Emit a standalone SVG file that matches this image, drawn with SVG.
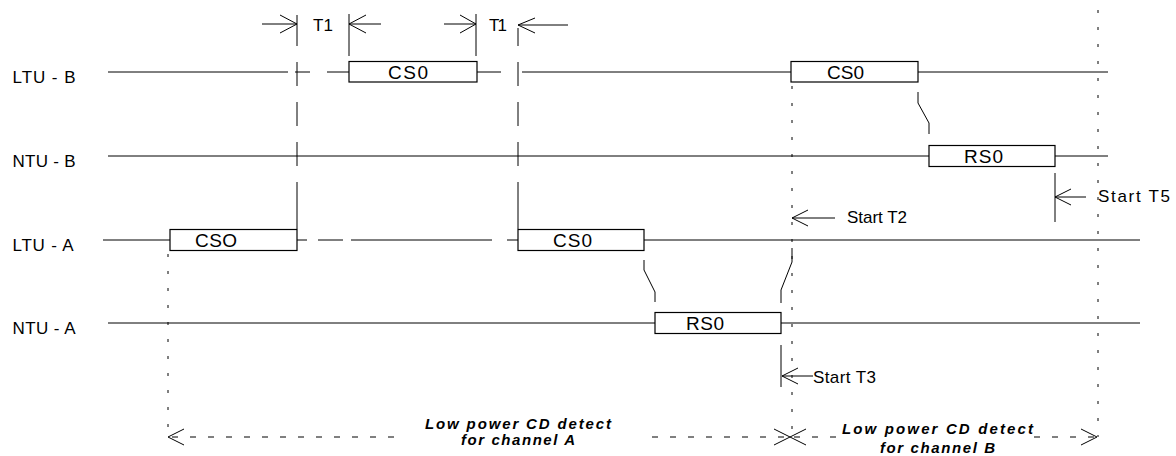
<svg xmlns="http://www.w3.org/2000/svg" width="1176" height="456" viewBox="0 0 1176 456">
<style>
.ln{stroke:#000;stroke-width:1;fill:none}
.box{fill:#fff;stroke:#000;stroke-width:1.2}
.lbl{font-family:"Liberation Sans",Arial,sans-serif;font-size:17px;fill:#000}
.bt{font-family:"Liberation Sans",Arial,sans-serif;font-size:19px;fill:#000}
.bi{font-family:"Liberation Sans",Arial,sans-serif;font-size:15px;font-weight:bold;font-style:italic;fill:#000}
.dot{stroke:#000;stroke-width:1;stroke-dasharray:3 14;fill:none}
.dsh{stroke:#000;stroke-width:1;stroke-dasharray:6 12;fill:none}
</style>
<rect width="1176" height="456" fill="#fff"/>

<g id="signal-lines">
<path class="ln" d="M108,72H288M295,72H310M327,72H349M477,72H501M522,72H791M918,72H1108"/>
<path class="ln" d="M108,156H929M1055,156H1108"/>
<path class="ln" d="M103,240H170M297,240H307M318,240H343M351,240H492M507,240H518M644,240H1140"/>
<path class="ln" d="M108,323H655M781,323H1140"/>
</g>

<g id="labels">
<text class="lbl" x="12.5" y="83" textLength="63">LTU - B</text>
<text class="lbl" x="12.5" y="167" textLength="63">NTU - B</text>
<text class="lbl" x="12.5" y="251" textLength="61">LTU - A</text>
<text class="lbl" x="12.5" y="334" textLength="63">NTU - A</text>
</g>

<g id="ltub-cs0-1"><rect class="box" x="349" y="61.5" width="128" height="20.5"/><text class="bt" x="388" y="79" textLength="40">CS0</text></g>
<g id="ltub-cs0-2"><rect class="box" x="791" y="61.5" width="127" height="20.5"/><text class="bt" x="827" y="79" textLength="37">CS0</text></g>
<g id="ntub-rs0"><rect class="box" x="929" y="145.5" width="126" height="21"/><text class="bt" x="964" y="162.5" textLength="39">RS0</text></g>
<g id="ltua-cso"><rect class="box" x="170" y="229.5" width="127" height="21"/><text class="bt" x="195" y="247" textLength="42">CSO</text></g>
<g id="ltua-cs0"><rect class="box" x="518" y="229.5" width="126" height="21"/><text class="bt" x="553" y="247" textLength="39">CS0</text></g>
<g id="ntua-rs0"><rect class="box" x="655" y="312.5" width="126" height="21"/><text class="bt" x="686" y="330" textLength="38">RS0</text></g>

<g id="connectors">
<!-- T1 markers -->
<path class="ln" d="M297,15V46M297,62V86M297,102V126M297,142V166M297,182V229"/>
<path class="ln" d="M518,28V46M518,62V86M518,102V126M518,142V166M518,182V229"/>
<path class="ln" d="M349,14V56M476,14V56"/>
<path class="ln" d="M262,24H297M280,15L297,24L280,33"/>
<path class="ln" d="M349,24H381M366,15L349,24L366,33"/>
<path class="ln" d="M444,24H476M460,15L476,24L460,33"/>
<path class="ln" d="M518,25H568M535,18L518,25L535,33"/>
<!-- causal slants -->
<path class="ln" d="M644,260V270L655,292V302"/>
<path class="ln" d="M781,303V290L792,262V248"/>
<path class="ln" d="M918,92V103L929,123V134"/>
<!-- timers -->
<path class="ln" d="M792,218H835M808,210L792,218L808,226"/>
<path class="ln" d="M781,345V387M782,376H813M798,368L782,376L798,384"/>
<path class="ln" d="M1055,173V222M1055,197H1086M1071,189L1055,197L1071,205"/>
<!-- dotted verticals -->
<path class="dot" d="M168,254V437"/>
<path class="dot" d="M792,86V437"/>
<path class="dot" d="M1098,10V437"/>
<!-- low-power detect spans -->
<path class="dsh" d="M172,437H398M652,437H788M794,437H838M1034,437H1094"/>
<path class="ln" d="M184,429L168,437L184,445"/>
<path class="ln" d="M774,429L806,445M774,445L806,429"/>
<path class="ln" d="M1081,429L1097,437L1081,445"/>
</g>

<g id="texts">
<text class="lbl" x="313" y="31" textLength="20">T1</text>
<text class="lbl" x="489" y="31" textLength="18">T1</text>
<text class="lbl" x="847" y="223" textLength="60">Start T2</text>
<text class="lbl" x="813" y="383" textLength="63">Start T3</text>
<text class="lbl" x="1098" y="202" font-size="19" textLength="72">Start T5</text>
<text class="bi" x="425" y="429" textLength="186">Low power CD detect</text>
<text class="bi" x="461" y="445" textLength="114">for channel A</text>
<text class="bi" x="842" y="434" textLength="191">Low power CD  detect</text>
<text class="bi" x="880" y="453" textLength="115">for channel B</text>
</g>
</svg>
